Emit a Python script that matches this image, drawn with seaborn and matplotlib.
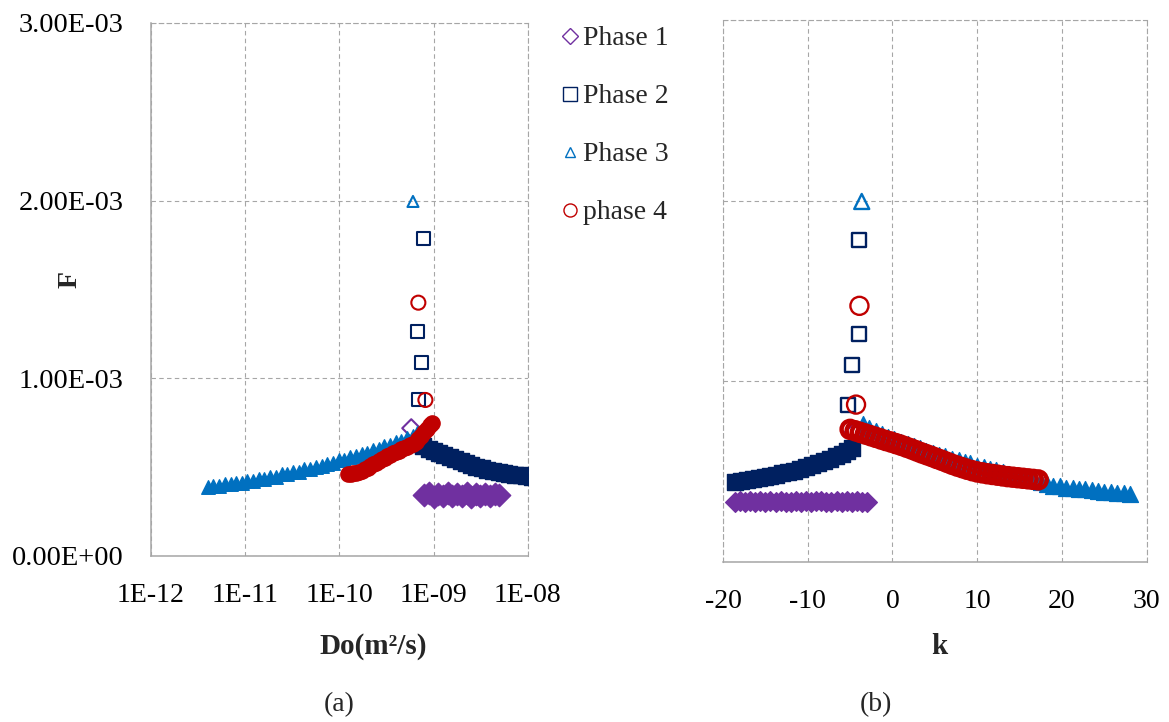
import matplotlib
matplotlib.use("Agg")
import matplotlib.pyplot as plt
from matplotlib.lines import Line2D
from matplotlib.ticker import NullLocator
import numpy as np
import seaborn as sns

# ------------------------------------------------------------------ data
F_UNIT = 1e-3  # F values below are given in units of 1E-03

phase_labels = ["Phase 1", "Phase 2", "Phase 3", "phase 4"]
phase_colors = ["#7030A0", "#002060", "#0070C0", "#C00000"]
phase_markers = ["D", "s", "^", "o"]

do_ticks = [1e-12, 1e-11, 1e-10, 1e-9, 1e-8]
do_tick_labels = ["1E-12", "1E-11", "1E-10", "1E-09", "1E-08"]
k_ticks = [-20, -10, 0, 10, 20, 30]
k_tick_labels = ["-20", "-10", "0", "10", "20", "30"]
f_ticks = [0.0, 1e-3, 2e-3, 3e-3]
f_tick_labels = ["0.00E+00", "1.00E-03", "2.00E-03", "3.00E-03"]

# ---- panel (a): F versus Do
do_p1 = [8.0e-10, 8.9e-10, 1.0e-9, 1.12e-9, 1.26e-9, 1.41e-9, 1.58e-9, 1.78e-9, 2.0e-9,
         2.24e-9, 2.5e-9, 2.8e-9, 3.15e-9, 3.55e-9, 4.0e-9, 4.45e-9, 5.0e-9]
F_do_p1 = [0.342, 0.352, 0.333, 0.350, 0.335, 0.351, 0.334, 0.349, 0.336, 0.352, 0.333,
           0.350, 0.335, 0.348, 0.334, 0.347, 0.340]
do_p1_out = [5.8e-10]
F_do_p1_out = [0.718]

do_p2 = [6.8e-10, 7.8e-10, 8.9e-10, 1.0e-9, 1.15e-9, 1.3e-9, 1.48e-9, 1.7e-9, 1.95e-9, 2.2e-9,
         2.5e-9, 2.85e-9, 3.25e-9, 3.7e-9, 4.25e-9, 4.9e-9, 5.6e-9, 6.4e-9, 7.3e-9, 8.4e-9,
         9.6e-9, 1.1e-8, 1.25e-8]
F_do_p2 = [0.627, 0.615, 0.602, 0.592, 0.580, 0.569, 0.557, 0.545, 0.533, 0.522, 0.511, 0.501,
           0.492, 0.484, 0.477, 0.471, 0.465, 0.460, 0.456, 0.452, 0.449, 0.446, 0.443]
do_p2_out = [7.9e-10, 6.8e-10, 7.5e-10, 7.0e-10]
F_do_p2_out = [1.788, 1.262, 1.087, 0.877]

do_p3 = [4.0e-12, 4.6e-12, 5.3e-12, 6.1e-12, 7.0e-12, 8.0e-12, 9.2e-12, 1.05e-11, 1.2e-11,
         1.4e-11, 1.6e-11, 1.85e-11, 2.1e-11, 2.45e-11, 2.8e-11, 3.2e-11, 3.7e-11, 4.25e-11,
         4.9e-11, 5.6e-11, 6.5e-11, 7.4e-11, 8.5e-11, 9.8e-11, 1.13e-10, 1.3e-10, 1.5e-10,
         1.72e-10, 1.98e-10, 2.28e-10, 2.62e-10, 3.0e-10, 3.45e-10, 3.97e-10, 4.56e-10,
         5.25e-10, 6.0e-10, 6.6e-10]
F_do_p3 = [0.386, 0.392, 0.392, 0.401, 0.401, 0.410, 0.411, 0.420, 0.421, 0.432, 0.433, 0.444,
           0.445, 0.458, 0.458, 0.471, 0.473, 0.486, 0.488, 0.502, 0.505, 0.519, 0.521, 0.537,
           0.540, 0.556, 0.560, 0.575, 0.580, 0.596, 0.601, 0.617, 0.622, 0.640, 0.645, 0.663,
           0.672, 0.690]
do_p3_out = [6.05e-10]
F_do_p3_out = [1.995]

do_p4 = [1.23e-10, 1.32e-10, 1.41e-10, 1.51e-10, 1.62e-10, 1.74e-10, 1.86e-10, 2.0e-10,
         2.14e-10, 2.29e-10, 2.45e-10, 2.63e-10, 2.82e-10, 3.02e-10, 3.24e-10, 3.47e-10,
         3.72e-10, 3.98e-10, 4.27e-10, 4.57e-10, 4.9e-10, 5.25e-10, 5.62e-10, 6.03e-10,
         6.46e-10, 6.92e-10, 7.41e-10, 7.94e-10, 8.51e-10, 9.12e-10, 9.55e-10]
F_do_p4 = [0.460, 0.461, 0.464, 0.468, 0.473, 0.479, 0.486, 0.495, 0.504, 0.514, 0.524, 0.534,
           0.544, 0.552, 0.560, 0.568, 0.576, 0.584, 0.592, 0.600, 0.608, 0.614, 0.621, 0.630,
           0.642, 0.658, 0.676, 0.695, 0.716, 0.735, 0.750]
do_p4_out = [6.9e-10, 8.2e-10]
F_do_p4_out = [1.425, 0.877]

# ---- panel (b): F versus k
k_p1 = [-18.6, -18.0, -17.4, -16.8, -16.2, -15.6, -15.0, -14.4, -13.8, -13.2, -12.6, -12.0,
        -11.4, -10.8, -10.2, -9.6, -9.0, -8.4, -7.8, -7.2, -6.6, -6.0, -5.4, -4.8, -4.2,
        -3.6, -3.0]
F_k_p1 = [0.333, 0.336, 0.330, 0.335, 0.331, 0.337, 0.332, 0.334, 0.330, 0.336, 0.333, 0.331,
          0.337, 0.332, 0.335, 0.330, 0.334, 0.336, 0.331, 0.333, 0.337, 0.330, 0.335, 0.332,
          0.334, 0.331, 0.333]
k_p1_out = [-4.6]
F_k_p1_out = [0.718]

k_p2 = [-18.6, -17.9, -17.2, -16.5, -15.8, -15.1, -14.4, -13.7, -13.0, -12.3, -11.6, -10.9,
        -10.2, -9.5, -8.8, -8.1, -7.4, -6.7, -6.0, -5.4, -4.8]
F_k_p2 = [0.440, 0.445, 0.451, 0.456, 0.462, 0.469, 0.475, 0.482, 0.489, 0.497, 0.505, 0.514,
          0.523, 0.533, 0.544, 0.556, 0.569, 0.583, 0.598, 0.613, 0.628]
k_p2_out = [-3.98, -3.98, -4.77, -5.2]
F_k_p2_out = [1.782, 1.260, 1.090, 0.870]

k_p3 = [28.0, 27.3, 26.5, 25.8, 25.0, 24.2, 23.5, 22.7, 22.0, 21.3, 20.5, 19.8, 19.0, 18.2,
        17.5, 16.8, 16.0, 15.2, 14.5, 13.8, 13.0, 12.2, 11.5, 10.8, 10.0, 9.2, 8.5, 7.8, 7.0,
        6.2, 5.5, 4.8, 4.0, 3.2, 2.5, 1.8, 1.0, 0.2, -0.5, -1.2, -2.0, -2.8, -3.5]
F_k_p3 = [0.375, 0.380, 0.381, 0.387, 0.388, 0.394, 0.395, 0.401, 0.402, 0.408, 0.409, 0.417,
          0.421, 0.433, 0.440, 0.451, 0.459, 0.470, 0.477, 0.488, 0.495, 0.506, 0.514, 0.525,
          0.532, 0.544, 0.551, 0.563, 0.571, 0.583, 0.590, 0.603, 0.613, 0.628, 0.638, 0.653,
          0.664, 0.678, 0.690, 0.708, 0.723, 0.742, 0.760]
k_p3_out = [-3.63]
F_k_p3_out = [1.995]

k_p4 = [-5.0, -4.4, -3.8, -3.2, -2.6, -2.0, -1.4, -0.8, -0.2, 0.4, 1.0, 1.6, 2.2, 2.8, 3.4,
        4.0, 4.6, 5.2, 5.8, 6.4, 7.0, 7.6, 8.2, 8.8, 9.4, 10.0, 10.6, 11.2, 11.8, 12.4, 13.0,
        13.6, 14.2, 14.8, 15.4, 16.0, 16.6, 17.2]
F_k_p4 = [0.733, 0.725, 0.716, 0.707, 0.698, 0.689, 0.680, 0.671, 0.663, 0.654, 0.645, 0.635,
          0.625, 0.614, 0.603, 0.593, 0.583, 0.572, 0.562, 0.551, 0.540, 0.530, 0.521, 0.512,
          0.504, 0.497, 0.492, 0.487, 0.483, 0.479, 0.475, 0.471, 0.468, 0.465, 0.462, 0.459,
          0.456, 0.453]
k_p4_out = [-3.9, -4.3]
F_k_p4_out = [1.417, 0.870]

# ------------------------------------------------------------------ style
sns.set_style("white")
plt.rcParams["font.family"] = ["Liberation Serif", "DejaVu Serif"]
plt.rcParams["axes.unicode_minus"] = False

GRID = "#A6A6A6"
W, H = 1169, 722

fig = plt.figure(figsize=(W / 100, H / 100), dpi=100)
axL = fig.add_axes([151 / W, 1 - 555.7 / H, 376.7 / W, 532.7 / H])
axR = fig.add_axes([723 / W, 1 - 561.7 / H, 423.7 / W, 541.7 / H])


def draw(ax, x, y, marker, color, size, lw, filled=False):
    sns.scatterplot(x=np.asarray(x, float), y=np.asarray(y, float) * F_UNIT, ax=ax,
                    marker=marker, s=size, color=color,
                    facecolor=color if filled else "none",
                    edgecolor=color, linewidth=lw, legend=False, zorder=3)


# dense runs of overlapping open markers read as solid bands -> drawn filled
# (band x, band F, band size, band filled, band edge, outlier x, outlier F, outlier size)
left_series = [
    (do_p1, F_do_p1, 130, True, 1.0, do_p1_out, F_do_p1_out, 84),
    (do_p2, F_do_p2, 120, True, 1.0, do_p2_out, F_do_p2_out, 88),
    (do_p3, F_do_p3, 95, True, 1.0, do_p3_out, F_do_p3_out, 63),
    (do_p4, F_do_p4, 120, True, 1.0, do_p4_out, F_do_p4_out, 102),
]
for (bx, by, bs, bf, blw, ox, oy, os_), m, c in zip(left_series, phase_markers, phase_colors):
    draw(axL, bx, by, m, c, bs, blw, bf)
    draw(axL, ox, oy, m, c, os_, 1.5)

right_series = [
    (k_p1, F_k_p1, 100, True, 1.0, k_p1_out, F_k_p1_out, 75),
    (k_p2, F_k_p2, 130, True, 1.0, k_p2_out, F_k_p2_out, 102),
    (k_p3, F_k_p3, 130, True, 1.0, k_p3_out, F_k_p3_out, 117),
    (k_p4, F_k_p4, 150, False, 3.2, k_p4_out, F_k_p4_out, 169),
]
for (bx, by, bs, bf, blw, ox, oy, os_), m, c in zip(right_series, phase_markers, phase_colors):
    draw(axR, bx, by, m, c, bs, blw, bf)
    draw(axR, ox, oy, m, c, os_, 1.7)

dash = (0, (4, 3))

# axes (a)
axL.set_xscale("log")
axL.set_xlim(1e-12, 1e-8)
axL.set_ylim(0, 3e-3)
axL.set_xticks(do_ticks)
axL.set_xticklabels(do_tick_labels)
axL.xaxis.set_minor_locator(NullLocator())
axL.set_yticks(f_ticks)
axL.set_yticklabels(f_tick_labels)

# axes (b)
axR.set_xlim(-20, 30)
axR.set_ylim(0, 3e-3)
axR.set_xticks(k_ticks)
axR.set_xticklabels(k_tick_labels)
axR.set_yticks(f_ticks)
axR.tick_params(axis="y", length=0, labelleft=False)

for ax in (axL, axR):
    ax.set_axisbelow(True)
    ax.grid(True, color=GRID, linestyle=dash, linewidth=0.8)
    ax.spines["bottom"].set_color(GRID)
    ax.spines["bottom"].set_linewidth(1.1)
    for side in ("top", "right"):
        ax.spines[side].set_color(GRID)
        ax.spines[side].set_linestyle(dash)
        ax.spines[side].set_linewidth(0.8)
    ax.tick_params(axis="x", direction="out", length=6.7, width=1.1, color=GRID,
                   labelsize=20, pad=13, labelcolor="black")
    ax.set_xlabel("")
    ax.set_ylabel("")

axL.spines["left"].set_color(GRID)
axL.spines["left"].set_linewidth(1.1)
axL.tick_params(axis="y", direction="out", length=6.7, width=1.1, color=GRID,
                labelsize=20.5, pad=13, labelcolor="black")
axR.spines["left"].set_color(GRID)
axR.spines["left"].set_linestyle(dash)
axR.spines["left"].set_linewidth(0.8)

axL.set_xlabel("Do(m²/s)", fontsize=21, fontweight="bold", va="center")
axL.xaxis.set_label_coords((373 - 151) / 376.7, (555.7 - 647) / 532.7)
axL.set_ylabel("F", fontsize=20, fontweight="bold", va="center", ha="center")
axL.yaxis.set_label_coords((70 - 151) / 376.7, (555.7 - 280) / 532.7)
axR.set_xlabel("k", fontsize=21, fontweight="bold", va="center")
axR.xaxis.set_label_coords((939 - 723) / 423.7, (561.7 - 647) / 541.7)

fig.text(339 / W, 1 - 705 / H, "(a)", fontsize=20, ha="center", va="center")
fig.text(876 / W, 1 - 705 / H, "(b)", fontsize=20, ha="center", va="center")

# legend
legend_sizes = [8.1, 10.0, 7.9, 9.4]
handles = [Line2D([], [], linestyle="none", marker=m, markersize=ms, markerfacecolor="none",
                  markeredgecolor=c, markeredgewidth=1.0)
           for m, c, ms in zip(phase_markers, phase_colors, legend_sizes)]
fig.legend(handles, phase_labels, loc="upper left", bbox_to_anchor=(563 / W, 1 - 26 / H),
           frameon=False, fontsize=20, handlelength=0.5, handletextpad=0.22,
           labelspacing=1.17, borderpad=0, borderaxespad=0)

fig.savefig("out.png", dpi=100)
